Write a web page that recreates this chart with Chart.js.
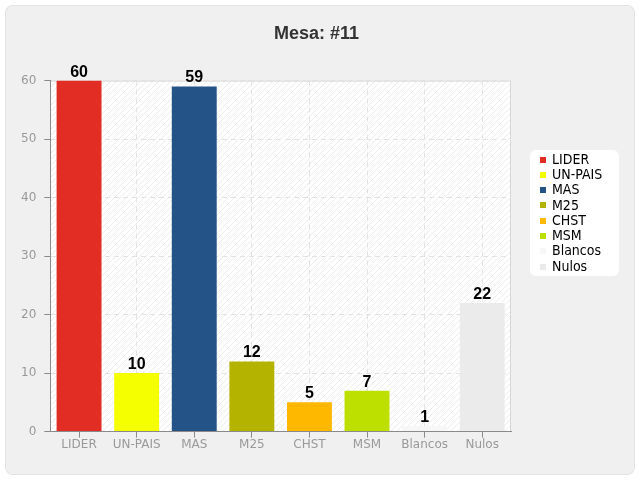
<!DOCTYPE html>
<html>
<head>
<meta charset="utf-8">
<script src="https://cdn.jsdelivr.net/npm/chart.js@4/dist/chart.umd.min.js"></script>
<style>
  html, body { margin: 0; padding: 0; background: #ffffff; }
  #wrap { width: 640px; height: 480px; }
</style>
</head>
<body>
<div id="wrap"><canvas id="mesaChart" width="640" height="480"></canvas></div>
<script>
// Votes per list for this table
const categories = ['LIDER', 'UN-PAIS', 'MAS', 'M25', 'CHST', 'MSM', 'Blancos', 'Nulos'];
const votes = [60, 10, 59, 12, 5, 7, 1, 22];
const yTicks = [0, 10, 20, 30, 40, 50, 60];
const barColors = ['#e12d24', '#f5ff00', '#245388', '#b3b300', '#ffb800', '#bee000', '#f7f7f7', '#ebebeb'];

// light diagonal hatch for the plot area
const hatch = document.createElement('canvas');
hatch.width = 6;
hatch.height = 6;
const hctx = hatch.getContext('2d');
hctx.fillStyle = '#ffffff';
hctx.fillRect(0, 0, 6, 6);
hctx.strokeStyle = '#ececec';
hctx.lineWidth = 1;
hctx.beginPath();
hctx.moveTo(0, 6); hctx.lineTo(6, 0);
hctx.moveTo(-1, 1); hctx.lineTo(1, -1);
hctx.moveTo(5, 7); hctx.lineTo(7, 5);
hctx.stroke();

const tickFont = { family: 'DejaVu Sans', size: 12 };

const decor = {
    id: 'decor',
    beforeDraw(chart) {
        const { ctx, chartArea: a } = chart;
        ctx.save();
        // panel
        ctx.fillStyle = '#f0f0f0';
        ctx.strokeStyle = '#e2e2e2';
        ctx.lineWidth = 1;
        ctx.beginPath();
        ctx.roundRect(5.5, 5.5, 629, 469, 7);
        ctx.fill();
        ctx.stroke();
        // plot area
        ctx.fillStyle = ctx.createPattern(hatch, 'repeat');
        ctx.fillRect(a.left, a.top, a.width, a.height);
        ctx.strokeStyle = '#d6d6d6';
        ctx.beginPath();
        ctx.moveTo(a.left, a.top + 0.5);
        ctx.lineTo(a.right - 0.5, a.top + 0.5);
        ctx.lineTo(a.right - 0.5, a.bottom);
        ctx.stroke();
        ctx.restore();
    },
    afterDatasetsDraw(chart) {
        const { ctx } = chart;
        const meta = chart.getDatasetMeta(0);
        ctx.save();
        ctx.font = 'bold 16px "Liberation Sans", Arial, sans-serif';
        ctx.fillStyle = '#000000';
        ctx.textAlign = 'center';
        ctx.textBaseline = 'alphabetic';
        meta.data.forEach((bar, i) => {
            ctx.fillText(String(votes[i]), bar.x, bar.y - 4);
        });
        ctx.restore();
    },
    afterDraw(chart) {
        const { ctx } = chart;
        const boxX = 530, boxY = 150, boxW = 89, boxH = 126, row = 15.3;
        ctx.save();
        ctx.fillStyle = '#ffffff';
        ctx.beginPath();
        ctx.roundRect(boxX, boxY, boxW, boxH, 6);
        ctx.fill();
        ctx.font = '14px "DejaVu Sans Condensed", "DejaVu Sans", sans-serif';
        ctx.textBaseline = 'middle';
        ctx.textAlign = 'left';
        categories.forEach((c, i) => {
            const cy = boxY + 9.5 + i * row;
            ctx.fillStyle = barColors[i];
            ctx.fillRect(boxX + 10, Math.round(cy - 3), 6, 6);
            ctx.fillStyle = '#000000';
            ctx.fillText(c, boxX + 22, cy + 0.5);
        });
        ctx.restore();
    }
};

new Chart(document.getElementById('mesaChart').getContext('2d'), {
    type: 'bar',
    data: {
        labels: categories,
        datasets: [{
            label: 'Votos',
            data: votes,
            backgroundColor: barColors,
            borderWidth: 0,
            barPercentage: 0.78,
            categoryPercentage: 1
        }]
    },
    options: {
        responsive: false,
        devicePixelRatio: 1,
        animation: false,
        layout: { padding: { top: 23, left: 13, right: 20, bottom: 28 } },
        plugins: {
            legend: { display: false },
            tooltip: { enabled: false },
            title: {
                display: true,
                text: 'Mesa: #11',
                color: '#333333',
                font: { family: '"Liberation Sans", Arial, sans-serif', size: 18, weight: 'bold' },
                padding: { top: 0, bottom: 36 }
            }
        },
        scales: {
            x: {
                grid: {
                    offset: false,
                    color: '#e2e2e2',
                    tickColor: '#8a8a8a',
                    tickLength: 6,
                    tickBorderDash: []
                },
                border: { color: '#8a8a8a', dash: [5, 4] },
                ticks: { color: '#999999', font: tickFont, padding: 0 }
            },
            y: {
                min: 0,
                max: 60,
                afterBuildTicks: scale => { scale.ticks = yTicks.map(v => ({ value: v })); },
                grid: {
                    color: '#e2e2e2',
                    tickColor: '#8a8a8a',
                    tickLength: 6,
                    tickBorderDash: []
                },
                border: { color: '#8a8a8a', dash: [5, 4] },
                ticks: { color: '#999999', font: tickFont, padding: 8 }
            },
            // empty right-hand column that leaves room for the legend box
            legendSpace: {
                type: 'linear',
                position: 'right',
                display: true,
                grid: { drawOnChartArea: false, drawTicks: false },
                border: { display: false },
                ticks: { display: false },
                afterFit: scale => { scale.width = 109; }
            }
        }
    },
    plugins: [decor]
});
</script>
</body>
</html>
